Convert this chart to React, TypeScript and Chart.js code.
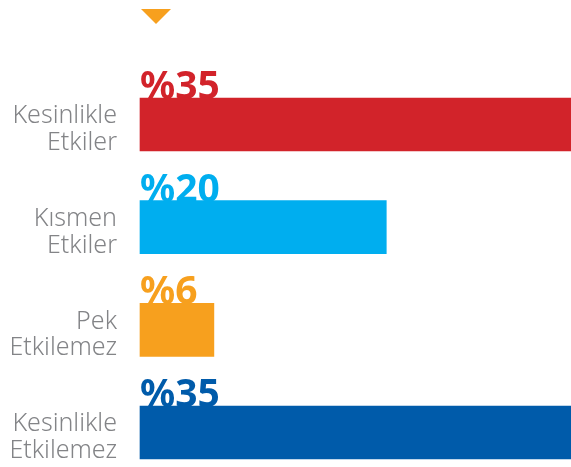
import React, { useEffect, useRef } from "react";
import { Chart, registerables } from "chart.js";

Chart.register(...registerables);

const categories: string[][] = [
  ["Kesinlikle", "Etkiler"],
  ["Kısmen", "Etkiler"],
  ["Pek", "Etkilemez"],
  ["Kesinlikle", "Etkilemez"],
];
const values: number[] = [35, 20, 6, 35];
const barColors: string[] = ["#D2232A", "#00AEEF", "#F7A01E", "#005BAA"];
const valuePrefix = "%";
const markerColor = "#F7A01E";

const valueLabelPlugin = {
  id: "valueLabels",
  beforeDatasetsDraw(chart: any) {
    const ctx = chart.ctx;
    const meta = chart.getDatasetMeta(0);
    ctx.save();
    ctx.font = "bold 39px 'Noto Sans'";
    ctx.textAlign = "left";
    ctx.textBaseline = "alphabetic";
    meta.data.forEach((el: any, i: number) => {
      const p = el.getProps(["x", "y", "base", "height"], true);
      ctx.fillStyle = barColors[i];
      ctx.fillText(valuePrefix + values[i], p.base, p.y - p.height / 2 + 1);
    });
    ctx.restore();
  },
  afterDraw(chart: any) {
    const ctx = chart.ctx;
    const left = chart.chartArea.left;
    ctx.save();
    ctx.fillStyle = markerColor;
    ctx.beginPath();
    ctx.moveTo(left + 1, 9);
    ctx.lineTo(left + 31, 9);
    ctx.lineTo(left + 16, 24);
    ctx.closePath();
    ctx.fill();
    ctx.restore();
  },
};

export default function App() {
  const ref = useRef<HTMLCanvasElement | null>(null);
  useEffect(() => {
    if (!ref.current) return;
    const chart = new Chart(ref.current, {
      type: "bar",
      data: {
        labels: categories as any,
        datasets: [
          {
            data: values,
            backgroundColor: barColors,
            borderWidth: 0,
            barThickness: 53,
            clip: false as any,
          },
        ],
      },
      options: {
        indexAxis: "y",
        animation: false,
        responsive: false,
        devicePixelRatio: 1,
        layout: { padding: { top: 124.5, bottom: 34.5, left: 0, right: 0 } },
        plugins: {
          legend: { display: false },
          tooltip: { enabled: false },
        },
        scales: {
          x: {
            display: false,
            min: 0,
            max: 35,
          },
          y: {
            type: "category",
            offset: false,
            grid: { display: false, drawTicks: false },
            border: { display: false },
            afterFit: (scale: any) => {
              scale.width = 140;
              scale.paddingTop = 0;
              scale.paddingBottom = 0;
            },
            ticks: {
              color: "#838487",
              padding: 23,
              labelOffset: 5,
              font: { family: "'Noto Sans'", size: 25, weight: "300", lineHeight: 1.07 },
            },
          },
        },
      },
      plugins: [valueLabelPlugin],
    });
    return () => chart.destroy();
  }, []);
  return (
    <div style={{ position: "fixed", left: 0, top: 0, width: 571, height: 467, background: "#fff" }}>
      <canvas ref={ref} width={571} height={467} style={{ display: "block" }} />
    </div>
  );
}
